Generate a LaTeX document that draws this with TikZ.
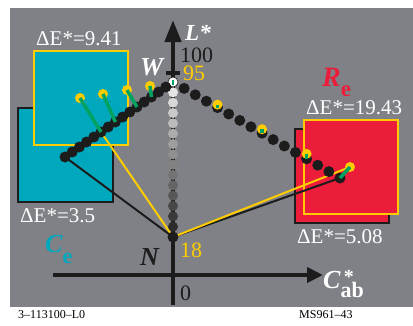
\documentclass[tikz,border=0pt]{standalone}
\usepackage{fontspec}
\setmainfont{Liberation Serif}
\usetikzlibrary{arrows.meta,calc}

\definecolor{hatter}{HTML}{7F8186}
\definecolor{cian}{HTML}{00A8BE}
\definecolor{piros}{HTML}{EC1C3B}
\definecolor{sarga}{HTML}{FFCC00}
\definecolor{zold}{HTML}{00A261}
\definecolor{sotet}{HTML}{1C1C1C}

\begin{document}
\begin{tikzpicture}[x=1pt,y=-1pt,
		pont/.style={circle,fill=sotet,inner sep=0pt,minimum size=11pt},
		cel/.style={circle,fill=sarga,inner sep=0pt,minimum size=10pt},
		szurke/.style={circle,inner sep=0pt,minimum size=10pt},
		elter/.style={zold,line width=3.5pt},
		felirat/.style={inner sep=0pt,anchor=base west,text=white,font=\fontsize{21}{24}\selectfont},
		nagy/.style={inner sep=0pt,anchor=base west,font=\fontsize{26}{30}\selectfont\bfseries\itshape},
		szam/.style={inner sep=0pt,anchor=base west,font=\fontsize{22}{26}\selectfont}]
				\useasboundingbox (0,0) rectangle (413,325);
				
				% hatter
				\fill[hatter] (10,8) rectangle (413,307);
				
				% negyzetek
				\filldraw[fill=cian,draw=sotet,line width=1.8pt] (18,108) rectangle (113,202);
				\filldraw[fill=cian,draw=sarga,line width=1.8pt] (34,51) rectangle (128,145);
				\filldraw[fill=piros,draw=sotet,line width=1.8pt] (295,129) rectangle (389,223);
				\filldraw[fill=piros,draw=sarga,line width=1.8pt] (304,120) rectangle (398,214);
				
				% tengelyek
				\draw[sotet,line width=4.5pt,-{Triangle[length=22pt,width=16pt]}] (173,305) -- (173,20);
				\draw[sotet,line width=4.5pt,-{Triangle[length=16pt,width=15pt]}] (53,275) -- (323,275);
				\draw[sotet,line width=3.5pt] (166,73) -- (180,73);
				
				% pontok helye
				\coordinate (W) at (173,82);
				\coordinate (N) at (173,237);
				\coordinate (Cv) at (65,157);
				\coordinate (Rv) at (340,178);
				\foreach \i in {1,...,15} {
					\path (W) -- (Cv) coordinate[pos=\i/15] (l\i);
					\path (W) -- (Rv) coordinate[pos=\i/15] (r\i);
				}
				\coordinate (Rc) at (350,167);
				
				% vonalak N-bol
				\draw[sotet,line width=2pt] (N) -- (l15);
				\draw[sarga,line width=2pt] (N) -- (l10);
				\draw[sotet,line width=2pt] (N) -- (r15);
				\draw[sarga,line width=2pt] (N) -- (Rc);
				
				% L* tengely pontjai
				\foreach \k in {1,...,14} {
					\pgfmathsetmacro\pct{10+(\k-1)*5.6}
					\node[szurke,fill=black!\pct] (g\k) at ($(W)!\k/15!(N)$) {};
				}
				\node[szurke,fill=white,draw=sotet,line width=0.6pt] (gW) at (W) {};
				\node[pont] (gN) at (N) {};
				\draw[zold,line width=1.2pt] ([yshift=-2.5pt]gW.center) -- ([yshift=2.5pt]gW.center);
				
				% gorbek
				\foreach \i in {1,...,15} {
					\node[pont] (lp\i) at (l\i) {};
					\node[pont] (rp\i) at (r\i) {};
				}
				
				% celpontok
				\node[cel] (c1) at (80,98) {};
				\node[cel] (c2) at (103,94) {};
				\node[cel] (c3) at (127,90) {};
				\node[cel] (c4) at (150,86) {};
				\node[cel] (c5) at ($(r4)+(0,-3)$) {};
				\node[cel] (c6) at ($(r8)+(0,-4)$) {};
				\node[cel] (c7) at ($(r12)+(0,-5)$) {};
				\node[cel] (c8) at (Rc) {};
				\draw[elter] (c1.center) -- (lp10.center);
				\draw[elter] (c2.center) -- (lp8.center);
				\draw[elter] (c3.center) -- (lp5.center);
				\draw[elter] (c4.center) -- (lp3.center);
				\draw[elter] (c5.center) -- (rp4.center);
				\draw[elter] (c6.center) -- (rp8.center);
				\draw[elter] (c7.center) -- (rp12.center);
				\draw[elter] (c8.center) -- (rp15.center);
				
				% feliratok
				\node[felirat] (e1) at (36,45) {ΔE*=9.41};
				\node[felirat] (e2) at (306,114) {ΔE*=19.43};
				\node[felirat] (e3) at (20,222) {ΔE*=3.5};
				\node[felirat] (e4) at (297,243) {ΔE*=5.08};
				
				\node[nagy,text=white] (Wt) at (140,75) {W};
				\node[nagy,text=sotet] (Nt) at (140,265) {N};
				\node[nagy,text=white,font=\fontsize{23}{26}\selectfont\bfseries\itshape] (Lt) at (185,40) {L*};
				\node[nagy,text=piros,font=\fontsize{28}{30}\selectfont\bfseries\itshape] (Rt) at (322,86) {R\raisebox{-10pt}{\fontsize{23}{25}\selectfont\upshape e}};
				\node[nagy,text=cian] (Ct) at (45,252) {C\raisebox{-11pt}{\fontsize{22}{24}\selectfont\upshape e}};
				\node[nagy,text=white] (Cab) at (323,288) {C\rlap{\raisebox{5pt}{\fontsize{20}{22}\selectfont\upshape\,*}}\raisebox{-9pt}{\fontsize{22}{24}\selectfont\upshape ab}};
				
				\node[szam,text=sotet] (t100) at (180,62) {100};
				\node[szam,text=sarga] (t95) at (183,80) {95};
				\node[szam,text=sarga] (t18) at (180,257) {18};
				\node[szam,text=sotet] (t0) at (180,300) {0};
				
				\node[inner sep=0pt,anchor=base west,font=\fontsize{12}{14}\selectfont] (k1) at (18,318) {3--113100--L0};
				\node[inner sep=0pt,anchor=base west,font=\fontsize{12}{14}\selectfont] (k2) at (299,318) {MS961--43};
				
			\end{tikzpicture}
\end{document}
